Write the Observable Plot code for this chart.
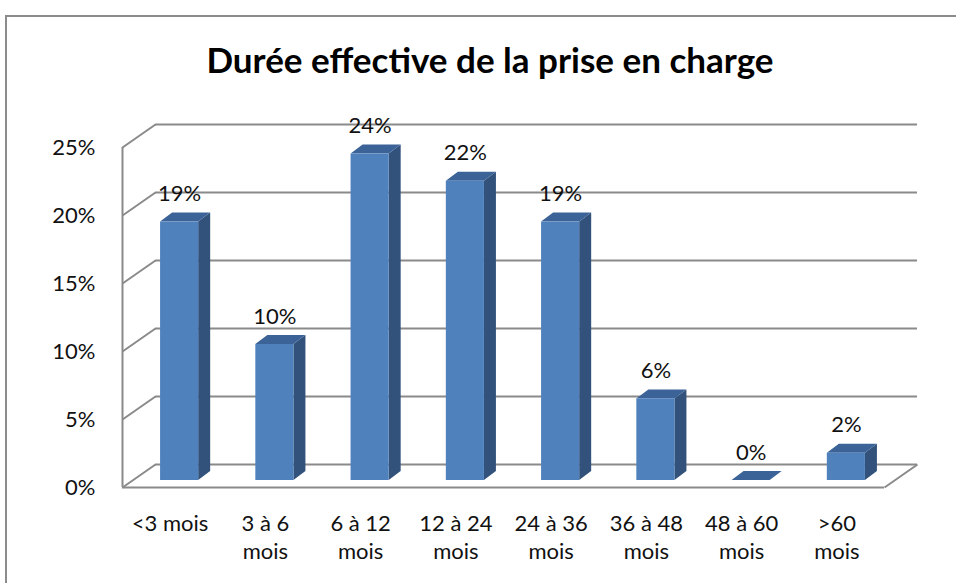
<!DOCTYPE html>
<html><head><meta charset="utf-8">
<script src="https://cdn.jsdelivr.net/npm/d3@7"></script>
<script src="https://cdn.jsdelivr.net/npm/@observablehq/plot@0.6"></script>
<style>
html,body{margin:0;padding:0;background:#fff;}
body{width:956px;height:583px;overflow:hidden;position:relative;font-family:Lato,"Open Sans",sans-serif;}
#frame{position:absolute;left:5px;top:15px;width:970px;height:620px;border:2px solid #8c8c8c;box-sizing:border-box;}
#title{position:absolute;left:0;top:37px;width:980px;text-align:center;font-weight:700;font-size:35px;line-height:44px;color:#000;}
#chart{position:absolute;left:0;top:0;}
</style></head>
<body>
<div id="frame"></div>
<div id="chart"></div>
<div id="title">Durée effective de la prise en charge</div>
<script>
const categories = ["<3 mois", "3 à 6\nmois", "6 à 12\nmois", "12 à 24\nmois", "24 à 36\nmois", "36 à 48\nmois", "48 à 60\nmois", ">60\nmois"];
const values = [19, 10, 24, 22, 19, 6, 0, 2];
const yTicks = [0, 5, 10, 15, 20, 25];

const W = 956, H = 583, mL = 122, mR = 72, mT = 147, mB = 96;
const SX = (W - mL - mR) / 8;      // px per category step
const SY = (H - mT - mB) / 25;     // px per percent
const WX = 33 / SX, WY = 23 / SY;  // back wall depth
const DX = 12 / SX, DY = 9 / SY;   // bar depth
const HW = 0.2;                    // bar half width
const shift = {dx: 9.5, dy: -7};

const idx = values.map((v, i) => i);
const sideFaces = idx.flatMap(i => [
  {i, x: i + HW, y1: 0, y2: values[i]},
  {i, x: i + HW + DX, y1: DY, y2: values[i] + DY}
]);
const topFaces = idx.flatMap(i => {
  const v = values[i];
  return [
    {i, x: i - HW, y1: v, y2: v},
    {i, x: i - HW + DX, y1: v, y2: v + DY},
    {i, x: i + HW, y1: v, y2: v + DY},
    {i, x: i + HW + DX, y1: v + DY, y2: v + DY}
  ];
});

const grid = {stroke: "#8a8a8a", strokeWidth: 2};

const plot = Plot.plot({
  width: W, height: H,
  marginLeft: mL, marginRight: mR, marginTop: mT, marginBottom: mB,
  x: {type: "linear", domain: [-0.5, 7.5], axis: null},
  y: {domain: [0, 25], axis: null},
  style: {fontFamily: "Lato, 'Open Sans', sans-serif", background: "transparent", color: "#000"},
  marks: [
    Plot.ruleY(yTicks, {y: d => d + WY, x1: -0.5 + WX, x2: 7.5 + WX, ...grid}),
    Plot.link(yTicks, {x1: -0.5, y1: d => d, x2: -0.5 + WX, y2: d => d + WY, ...grid}),
    Plot.ruleX([-0.5], {y1: 0, y2: 25, ...grid}),
    Plot.ruleY([0], {x1: -0.5, x2: 7.5, ...grid}),
    Plot.link([0], {x1: 7.5, y1: 0, x2: 7.5 + WX, y2: WY, ...grid}),
    Plot.area(sideFaces, {x1: "x", y1: "y1", y2: "y2", z: "i", fill: "#32527c", ...shift}),
    Plot.area(topFaces, {x1: "x", y1: "y1", y2: "y2", z: "i", fill: "#3b6398", ...shift}),
    Plot.rect(idx, {x1: i => i - HW, x2: i => i + HW, y1: 0, y2: i => values[i], fill: "#4f81bd", ...shift}),
    Plot.text(idx, {x: i => i, y: i => values[i], text: i => values[i] + "%", dx: 9.5, dy: -35, fontSize: 22, fill: "#111"}),
    Plot.text(yTicks, {x: -0.5, y: d => d, text: d => d + "%", textAnchor: "end", dx: -27, fontSize: 22, fill: "#111"}),
    Plot.text(idx, {x: i => i, y: 0, text: i => categories[i], lineAnchor: "top", dy: 24, fontSize: 22, lineHeight: 1.27, fill: "#111"})
  ]
});
document.getElementById("chart").appendChild(plot);
</script>
</body></html>
